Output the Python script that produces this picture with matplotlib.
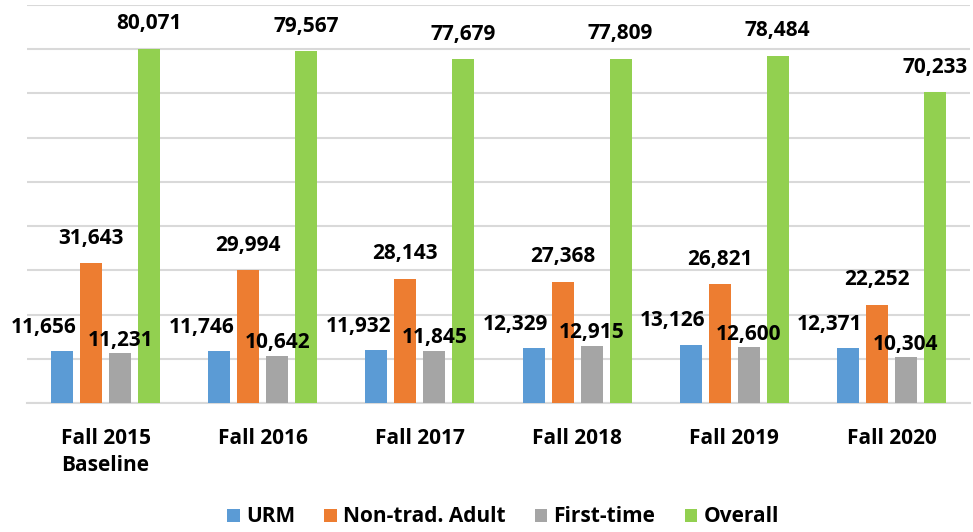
import matplotlib
matplotlib.use("Agg")
import matplotlib.pyplot as plt
import numpy as np

categories = ["Fall 2015\nBaseline", "Fall 2016", "Fall 2017", "Fall 2018", "Fall 2019", "Fall 2020"]
series_names = ["URM", "Non-trad. Adult", "First-time", "Overall"]
urm = [11656, 11746, 11932, 12329, 13126, 12371]
non_trad = [31643, 29994, 28143, 27368, 26821, 22252]
first_time = [11231, 10642, 11845, 12915, 12600, 10304]
overall = [80071, 79567, 77679, 77809, 78484, 70233]
colors = ["#5B9BD5", "#ED7D31", "#A5A5A5", "#92D050"]

plt.rcParams['font.family'] = ['Open Sans', 'DejaVu Sans']

fig = plt.figure(figsize=(9.73, 5.32), dpi=100)
ax = fig.add_axes([27/973, (532-403)/532, (970-27)/973, (403-5)/532])

x = np.arange(len(categories))
step = 29/157
width = 22/157
data = [urm, non_trad, first_time, overall]
# label offsets in pixels (dx, dy of label center above bar top)
offsets = [(-18, 24), (0, 25), (0, 13), (0, 25)]
for i, (vals, c, name) in enumerate(zip(data, colors, series_names)):
    xs = x + (i - 1.5) * step
    ax.bar(xs, vals, width, color=c, label=name, zorder=3)
    dx, dy = offsets[i]
    for xi, v in zip(xs, vals):
        ax.annotate(f"{v:,}", (xi, v), xytext=(dx*0.72, dy*0.72), textcoords="offset points",
                    ha="center", va="center", fontsize=15, fontweight="bold", color="black", zorder=5)

ax.set_xlim(-0.5, len(categories) - 0.5)
ax.set_ylim(0, 90000)
ax.set_yticks(np.arange(0, 90001, 10000))
ax.yaxis.grid(True, color="#D9D9D9", linewidth=1.5, zorder=0)
ax.tick_params(axis="y", length=0, labelleft=False)
ax.tick_params(axis="x", length=0, pad=18)
ax.set_xticks(x)
ax.set_xticklabels(categories, fontsize=15, fontweight="bold", linespacing=1.35)
for s in ["top", "right", "left"]:
    ax.spines[s].set_visible(False)
ax.spines["bottom"].set_color("#D9D9D9")
ax.spines["bottom"].set_linewidth(1.5)

leg = fig.legend(loc="center", bbox_to_anchor=(503/973, 1 - 517/532), ncol=4, frameon=False,
                 prop={"size": 15, "weight": "bold"}, handlelength=0.6, handleheight=0.6,
                 columnspacing=1.4, handletextpad=0.3)

fig.savefig("out.png", dpi=100)
